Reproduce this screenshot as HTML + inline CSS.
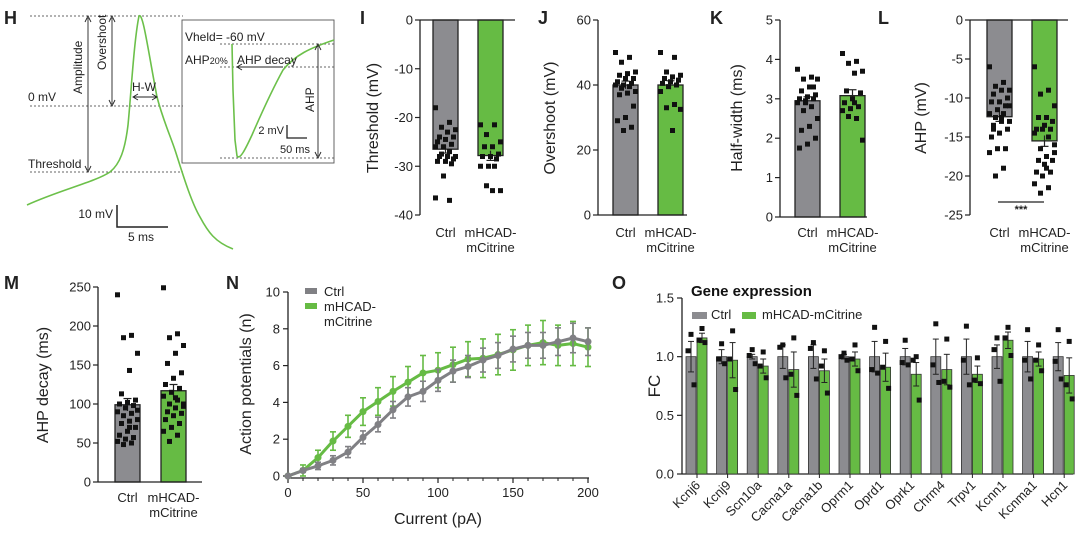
<!DOCTYPE html>
<html><head><meta charset="utf-8">
<style>
html,body{margin:0;padding:0;background:#fff;}
svg{display:block;font-family:"Liberation Sans",Arial,sans-serif;}
</style></head>
<body>
<svg id="fig" width="1080" height="535" viewBox="0 0 1080 535">
<g font-weight="bold" font-size="18" fill="#222">
<text x="4" y="24">H</text>
<text x="360" y="24">I</text>
<text x="538" y="24">J</text>
<text x="710" y="24">K</text>
<text x="878" y="24">L</text>
<text x="4" y="289">M</text>
<text x="226" y="289">N</text>
<text x="612" y="289">O</text>
</g>
<g font-size="12" fill="#222">
<g stroke="#333" stroke-width="0.8" stroke-dasharray="2,2" fill="none">
<line x1="30" y1="16" x2="183" y2="16"/><line x1="30" y1="106" x2="183" y2="106"/><line x1="30" y1="172" x2="183" y2="172"/>
<line x1="220" y1="44" x2="334" y2="44"/><line x1="220" y1="67" x2="334" y2="67"/><line x1="220" y1="158" x2="334" y2="158"/>
</g>
<path d="M27,205 C60,190 95,182 110,172 C120,164 125,150 128,125 C131,95 134,40 139,16 C143,12 148,50 157,97 C163,120 170,135 175,150 C180,165 190,200 200,217 C208,232 215,242 233,249" fill="none" stroke="#6cc04a" stroke-width="1.6"/>
<g stroke="#222" stroke-width="0.9" fill="none">
<line x1="88" y1="18" x2="88" y2="170"/><path d="M85,22 L88,16 L91,22 M85,166 L88,172 L91,166"/>
<line x1="112" y1="18" x2="112" y2="104"/><path d="M109,22 L112,16 L115,22 M109,100 L112,106 L115,100"/>
<line x1="134" y1="97" x2="156" y2="97"/><path d="M138,94 L133,97 L138,100 M152,94 L157,97 L152,100"/>
<path d="M117,205 L117,227 L168,227" stroke-width="1.5"/>
</g>
<text transform="translate(82,94) rotate(-90)">Amplitude</text>
<text transform="translate(106,70) rotate(-90)">Overshoot</text>
<text x="132" y="91">H-W</text>
<text x="28" y="101">0 mV</text>
<text x="28" y="168">Threshold</text>
<text x="113" y="218" text-anchor="end">10 mV</text>
<text x="128" y="241">5 ms</text>
<rect x="182" y="20" width="152" height="143" fill="none" stroke="#555" stroke-width="0.9"/>
<path d="M232,44 L233,90 L235,140 L237,156 C240,160 245,150 252,135 C262,112 272,90 283,70 C295,55 310,48 334,40" fill="none" stroke="#6cc04a" stroke-width="1.6"/>
<g stroke="#222" stroke-width="0.9" fill="none">
<line x1="238" y1="67" x2="283" y2="67"/><path d="M242,64 L237,67 L242,70"/>
<line x1="318" y1="46" x2="318" y2="156"/><path d="M315,50 L318,44 L321,50 M315,152 L318,158 L321,152"/>
<path d="M287,125 L287,138 L307,138" stroke-width="1.3"/>
</g>
<text x="185" y="41">Vheld= -60 mV</text>
<text x="185" y="64">AHP<tspan font-size="9">20%</tspan></text>
<text x="237" y="64">AHP decay</text>
<text transform="translate(314,112) rotate(-90)">AHP</text>
<text x="284" y="134" text-anchor="end" font-size="11">2 mV</text>
<text x="280" y="153" font-size="11">50 ms</text>
</g>
<g id="bars"></g>
<g id="nchart"></g>
<g id="ochart"></g>
</svg>
<script>
const thresholdCtrl = [-18,-21,-22,-22.5,-23,-24,-24,-24.5,-25,-25.5,-26,-26,-27,-27.5,-28,-28,-28,-28.5,-29,-29,-29.5,-32,-36.5,-37];
const thresholdHcad = [-21.5,-21.5,-23.5,-25,-26,-26,-27.5,-28,-28,-28.5,-30,-30,-30,-34,-35,-35];
const thresholdMeans = [-26.5,-27.8];
const overshootCtrl = [50,48.5,47,44,43.5,43,42,42,41,40.5,40,40,39.5,39,38,37.5,37,33.5,30,29,27,26];
const overshootHcad = [50,48.5,44,43,42.5,42,41.5,41,40.5,40,39.5,38,34,33,32.5,26];
const overshootMeans = [40,40];
const halfwidthCtrl = [3.75,3.55,3.5,3.5,3.3,3.2,3.1,3.05,3.0,3.0,2.95,2.9,2.8,2.7,2.5,2.3,2.2,2.0,1.85,1.75,3.3,2.9];
const halfwidthHcad = [4.15,3.95,3.9,3.7,3.65,3.2,3.15,3.0,2.9,2.8,2.75,2.7,2.5,2.55,1.95,2.9];
const halfwidthMeans = [2.95,3.08];
const ahpCtrl = [-6,-8,-8.5,-9,-9,-9.5,-10,-10.5,-10.5,-11,-11.5,-12,-12,-12.5,-13,-13,-13.5,-14,-14.5,-15,-16.5,-16.5,-17,-19,-20,-11,-12.5,-14];
const ahpHcad = [-6,-9,-9.5,-11,-12.5,-12.5,-13,-13.5,-14,-14,-14,-14.5,-15,-16.5,-17,-17.5,-18,-18,-18.5,-19.5,-19.5,-20,-21,-21.5,-22.2,-16,-19];
const ahpMeans = [-12.4,-15.5];
const decayCtrl = [240,188,185,165,143,113,105,102,100,98,95,90,88,85,80,78,75,70,65,60,57,55,52,50,48,92,70];
const decayHcad = [249,190,185,175,165,152,140,133,125,120,115,110,105,100,97,95,90,88,85,80,75,70,65,60,52,100,108];
const decayMeans = [99,117];
const thresholdTicks = [0,-10,-20,-30,-40];
const overshootTicks = [0,20,40,60];
const halfwidthTicks = [0,1,2,3,4,5];
const ahpTicks = [0,-5,-10,-15,-20,-25];
const decayTicks = [0,50,100,150,200,250];

const currents = [0,10,20,30,40,50,60,70,80,90,100,110,120,130,140,150,160,170,180,190,200];
const apCtrl = [0,0.3,0.55,0.85,1.3,2.1,2.8,3.6,4.3,4.6,5.2,5.7,5.95,6.3,6.55,6.9,7.1,7.1,7.3,7.5,7.3];
const apCtrlErr = [0,0.1,0.2,0.25,0.3,0.35,0.4,0.45,0.5,0.55,0.6,0.6,0.6,0.65,0.7,0.7,0.7,0.7,0.75,0.8,0.75];
const apHcad = [0,0.3,1.0,1.9,2.7,3.5,4.05,4.6,5.1,5.6,5.75,6.05,6.35,6.4,6.6,6.85,7.1,7.25,7.1,7.2,7.0];
const apHcadErr = [0,0.3,0.4,0.5,0.6,0.75,0.75,0.8,0.85,0.95,0.95,0.95,0.95,1.05,1.1,1.1,1.1,1.2,1.1,1.2,1.05];
const nXTicks = [0,50,100,150,200];
const nYTicks = [0,2,4,6,8,10];

const genes = ["Kcnj6","Kcnj9","Scn10a","Cacna1a","Cacna1b","Oprm1","Oprd1","Oprk1","Chrm4","Trpv1","Kcnn1","Kcnma1","Hcn1"];
const fcCtrl = [1.0,1.0,1.0,1.0,1.0,1.0,1.0,1.0,1.0,1.0,1.0,1.0,1.0];
const fcCtrlErr = [0.13,0.06,0.02,0.1,0.1,0.02,0.13,0.07,0.15,0.15,0.1,0.13,0.12];
const fcCtrlPts = [[1.19,1.05,0.76],[1.11,0.98,0.94],[1.06,1.01,0.94],[1.10,1.08,0.82],[1.12,1.07,0.81],[1.03,1.0,0.97],[1.25,0.89,0.86],[1.14,0.95,0.93],[1.28,0.93,0.78],[1.26,0.97,0.76],[1.16,1.06,0.79],[1.23,0.97,0.81],[1.23,0.96,0.81]];
const fcHcad = [1.16,0.97,0.92,0.89,0.88,0.98,0.91,0.85,0.89,0.85,1.14,0.98,0.84];
const fcHcadErr = [0.04,0.15,0.06,0.15,0.1,0.06,0.12,0.1,0.13,0.07,0.07,0.06,0.15];
const fcHcadPts = [[1.24,1.14,1.12],[1.22,0.98,0.72],[1.04,0.92,0.82],[1.16,0.85,0.67],[1.05,0.92,0.69],[1.10,0.98,0.88],[1.13,0.91,0.73],[1.0,0.97,0.63],[1.15,0.79,0.74],[0.99,0.80,0.77],[1.25,1.16,1.01],[1.10,0.97,0.88],[1.13,0.76,0.64]];
const oTicks = [0,0.5,1.0,1.5];

const NS = "http://www.w3.org/2000/svg";
const GRAY = "#8c8c90", GREEN = "#66bb44";
function mk(parent, tag, attrs, text){
  const e = document.createElementNS(NS, tag);
  for (const k in attrs) e.setAttribute(k, attrs[k]);
  if (text !== undefined) e.textContent = text;
  parent.appendChild(e);
  return e;
}

function barPanel(cfg){
  const g = mk(document.getElementById('bars'), 'g', {});
  
  
  const ys = v => cfg.y0 + (v - cfg.vmin)/(cfg.vmax - cfg.vmin)*(cfg.y1 - cfg.y0);
  const base = ys(cfg.baseVal);
  const groups = [[cfg.ctrl, cfg.means[0], GRAY, cfg.b1], [cfg.hcad, cfg.means[1], GREEN, cfg.b2]];
  groups.forEach((gr, gi) => {
    const [pts, mean, col, bx] = gr;
    const top = Math.min(base, ys(mean)), h = Math.abs(ys(mean) - base);
    const r = mk(g, 'rect', {x:bx, y:top, width:25, height:h, fill:col, stroke:'#222', 'stroke-width':1.3});
    
    
    const cx = bx + 12.5;
    const sem = cfg.sem[gi];
    mk(g, 'line', {x1:cx, x2:cx, y1:ys(mean - sem), y2:ys(mean + sem), stroke:'#222', 'stroke-width':1.2});
    const capV = mean + (cfg.vmax < cfg.vmin ? -sem : sem);
    mk(g, 'line', {x1:cx-4, x2:cx+4, y1:ys(capV), y2:ys(capV), stroke:'#222', 'stroke-width':1.2});
    pts.forEach((v, i) => {
      const off = (((i * 7) % 11) - 5) * 2.0;
      const p = mk(g, 'rect', {x:cx + off - 2.5, y:ys(v) - 2.5, width:5, height:5, fill:'#111'});
      
      
    });
  });
  mk(g, 'line', {x1:cfg.ax, x2:cfg.ax, y1:Math.min(cfg.y0,cfg.y1), y2:Math.max(cfg.y0,cfg.y1), stroke:'#222', 'stroke-width':1.3});
  mk(g, 'line', {x1:cfg.ax, x2:cfg.axEnd, y1:base, y2:base, stroke:'#222', 'stroke-width':1.3});
  cfg.ticks.forEach(t => {
    mk(g, 'line', {x1:cfg.ax-5, x2:cfg.ax, y1:ys(t), y2:ys(t), stroke:'#222', 'stroke-width':1.2});
    const tl = mk(g, 'text', {x:cfg.ax-7, y:ys(t)+4.5, 'text-anchor':'end', 'font-size':13, fill:'#222'}, String(t));
    
    
  });
  const yl = mk(g, 'text', {transform:`translate(${cfg.ylx},${cfg.yly}) rotate(-90)`, 'text-anchor':'middle', 'font-size':16, fill:'#222'}, cfg.ylabel);
  
  
  const ly = cfg.labelY;
  const c1 = mk(g, 'text', {x:cfg.b1+12.5, y:ly, 'text-anchor':'middle', 'font-size':13, fill:'#222'}, 'Ctrl');
  
  
  const c2 = mk(g, 'text', {x:cfg.b2+12.5, y:ly, 'text-anchor':'middle', 'font-size':13, fill:'#222'}, 'mHCAD-');
  
  
  mk(g, 'text', {x:cfg.b2+12.5, y:ly+15, 'text-anchor':'middle', 'font-size':13, fill:'#222'}, 'mCitrine');
  return {g, ys};
}

barPanel({name:'panel-i-threshold', ctrl:thresholdCtrl, hcad:thresholdHcad, means:thresholdMeans, sem:[0.8,1.0], ticks:thresholdTicks,
  vmin:0, vmax:-40, y0:20, y1:215, baseVal:0, ax:420, axEnd:515, b1:433, b2:478, ylabel:'Threshold (mV)', ylx:378, yly:118, labelY:237});
barPanel({name:'panel-j-overshoot', ctrl:overshootCtrl, hcad:overshootHcad, means:overshootMeans, sem:[1.2,1.3], ticks:overshootTicks,
  vmin:0, vmax:60, y0:215, y1:20, baseVal:0, ax:598, axEnd:687, b1:613, b2:658, ylabel:'Overshoot (mV)', ylx:555, yly:118, labelY:237});
barPanel({name:'panel-k-halfwidth', ctrl:halfwidthCtrl, hcad:halfwidthHcad, means:halfwidthMeans, sem:[0.1,0.15], ticks:halfwidthTicks,
  vmin:0, vmax:5, y0:217, y1:20, baseVal:0, ax:780, axEnd:867, b1:795, b2:840, ylabel:'Half-width (ms)', ylx:742, yly:118, labelY:237});
const L = barPanel({name:'panel-l-ahp', ctrl:ahpCtrl, hcad:ahpHcad, means:ahpMeans, sem:[0.6,0.7], ticks:ahpTicks,
  vmin:0, vmax:-25, y0:20, y1:215, baseVal:0, ax:970, axEnd:1068, b1:987, b2:1032, ylabel:'AHP (mV)', ylx:926, yly:118, labelY:237});
const sig = mk(L.g, 'line', {x1:998, x2:1044, y1:202, y2:202, stroke:'#222', 'stroke-width':1.2});


const st = mk(L.g, 'text', {x:1021, y:213, 'text-anchor':'middle', 'font-size':11, 'font-weight':'bold', fill:'#222'}, '***');


barPanel({name:'panel-m-ahp-decay', ctrl:decayCtrl, hcad:decayHcad, means:decayMeans, sem:[8,8], ticks:decayTicks,
  vmin:0, vmax:250, y0:482, y1:287, baseVal:0, ax:98, axEnd:202, b1:115, b2:161, ylabel:'AHP decay (ms)', ylx:48, yly:385, labelY:502});

(function(){
  const g = document.getElementById('nchart');
  
  
  const xs = v => 288 + v/200*300;
  const ys = v => 476 - v/10*184;
  mk(g, 'line', {x1:288, x2:288, y1:ys(10), y2:478, stroke:'#222', 'stroke-width':1.3});
  mk(g, 'line', {x1:288, x2:589, y1:478, y2:478, stroke:'#222', 'stroke-width':1.3});
  nYTicks.forEach(t => {
    mk(g, 'line', {x1:283, x2:288, y1:ys(t), y2:ys(t), stroke:'#222', 'stroke-width':1.2});
    const tl = mk(g, 'text', {x:280, y:ys(t)+4.5, 'text-anchor':'end', 'font-size':13, fill:'#222'}, String(t));
    
    
  });
  nXTicks.forEach(t => {
    mk(g, 'line', {x1:xs(t), x2:xs(t), y1:478, y2:483, stroke:'#222', 'stroke-width':1.2});
    const tl = mk(g, 'text', {x:xs(t), y:497, 'text-anchor':'middle', 'font-size':13, fill:'#222'}, String(t));
    
    
  });
  currents.forEach(c => mk(g, 'line', {x1:xs(c), x2:xs(c), y1:478, y2:481, stroke:'#222', 'stroke-width':1}));
  const series = [[apHcad, apHcadErr, GREEN, 'series-mhcad'], [apCtrl, apCtrlErr, '#808084', 'series-ctrl']];
  series.forEach(([vals, errs, col, nm]) => {
    const sg = mk(g, 'g', {});
    
    
    vals.forEach((v, i) => {
      const x = xs(currents[i]);
      mk(sg, 'line', {x1:x, x2:x, y1:ys(v-errs[i]), y2:ys(v+errs[i]), stroke:col, 'stroke-width':1.6});
      mk(sg, 'line', {x1:x-3, x2:x+3, y1:ys(v+errs[i]), y2:ys(v+errs[i]), stroke:col, 'stroke-width':1.6});
      mk(sg, 'line', {x1:x-3, x2:x+3, y1:ys(v-errs[i]), y2:ys(v-errs[i]), stroke:col, 'stroke-width':1.6});
    });
    const d = vals.map((v,i) => (i?'L':'M') + xs(currents[i]) + ',' + ys(v)).join(' ');
    mk(sg, 'path', {d, fill:'none', stroke:col, 'stroke-width':3, 'stroke-linejoin':'round'});
    vals.forEach((v, i) => {
      const p = mk(sg, 'circle', {cx:xs(currents[i]), cy:ys(v), r:3.5, fill:col});
      
      
    });
  });
  const lg = mk(g, 'g', {});
  
  
  mk(lg, 'rect', {x:305, y:288, width:12, height:6, fill:'#808084'});
  mk(lg, 'text', {x:324, y:296, 'font-size':13, fill:'#222'}, 'Ctrl');
  mk(lg, 'rect', {x:305, y:303, width:12, height:6, fill:GREEN});
  mk(lg, 'text', {x:324, y:311, 'font-size':13, fill:'#222'}, 'mHCAD-');
  mk(lg, 'text', {x:324, y:326, 'font-size':13, fill:'#222'}, 'mCitrine');
  const xl = mk(g, 'text', {x:438, y:524, 'text-anchor':'middle', 'font-size':16, fill:'#222'}, 'Current (pA)');
  
  
  const yl = mk(g, 'text', {transform:'translate(251,384) rotate(-90)', 'text-anchor':'middle', 'font-size':16, fill:'#222'}, 'Action potentials (n)');
  
  
})();

(function(){
  const g = document.getElementById('ochart');
  
  
  const ys = v => 474 - v/1.5*176;
  const gx = i => 697 + i*30.6;
  mk(g, 'line', {x1:682, x2:682, y1:ys(1.5), y2:474, stroke:'#222', 'stroke-width':1.3});
  mk(g, 'line', {x1:682, x2:1073, y1:474, y2:474, stroke:'#222', 'stroke-width':1.3});
  oTicks.forEach(t => {
    mk(g, 'line', {x1:677, x2:682, y1:ys(t), y2:ys(t), stroke:'#222', 'stroke-width':1.2});
    const tl = mk(g, 'text', {x:674, y:ys(t)+4.5, 'text-anchor':'end', 'font-size':13, fill:'#222'}, t.toFixed(1));
    
    
  });
  genes.forEach((name, i) => {
    const c = gx(i);
    [[fcCtrl[i], fcCtrlErr[i], fcCtrlPts[i], GRAY, c-11, 'bar-ctrl-'], [fcHcad[i], fcHcadErr[i], fcHcadPts[i], GREEN, c, 'bar-mhcad-']].forEach(([m, e, pts, col, bx, nm]) => {
      const r = mk(g, 'rect', {x:bx, y:ys(m), width:10, height:474-ys(m), fill:col, stroke:'#333', 'stroke-width':0.8});
      
      
      const cx = bx + 5;
      mk(g, 'line', {x1:cx, x2:cx, y1:ys(m-e), y2:ys(m+e), stroke:'#222', 'stroke-width':1});
      mk(g, 'line', {x1:cx-3, x2:cx+3, y1:ys(m+e), y2:ys(m+e), stroke:'#222', 'stroke-width':1});
      mk(g, 'line', {x1:cx-3, x2:cx+3, y1:ys(m-e), y2:ys(m-e), stroke:'#222', 'stroke-width':1});
      pts.forEach((v, k) => {
        const off = [0, -3, 3][k];
        const p = mk(g, 'rect', {x:cx+off-2.5, y:ys(v)-2.5, width:5, height:5, fill:'#111'});
        
        
      });
    });
    mk(g, 'line', {x1:c, x2:c, y1:474, y2:478, stroke:'#222', 'stroke-width':1});
    const tl = mk(g, 'text', {transform:`translate(${c+4},${486}) rotate(-45)`, 'text-anchor':'end', 'font-size':13, fill:'#222'}, name);
    
    
  });
  const tt = mk(g, 'text', {x:691, y:296, 'font-size':15, 'font-weight':'bold', fill:'#111'}, 'Gene expression');
  
  
  const lg = mk(g, 'g', {});
  
  
  mk(lg, 'rect', {x:692, y:312, width:15, height:7, fill:GRAY});
  mk(lg, 'text', {x:711, y:319, 'font-size':13, fill:'#222'}, 'Ctrl');
  mk(lg, 'rect', {x:742, y:312, width:14, height:7, fill:GREEN});
  mk(lg, 'text', {x:762, y:319, 'font-size':13, fill:'#222'}, 'mHCAD-mCitrine');
  const yl = mk(g, 'text', {transform:'translate(660,386) rotate(-90)', 'text-anchor':'middle', 'font-size':17, fill:'#222'}, 'FC');
  
  
})();
</script>
</body></html>
